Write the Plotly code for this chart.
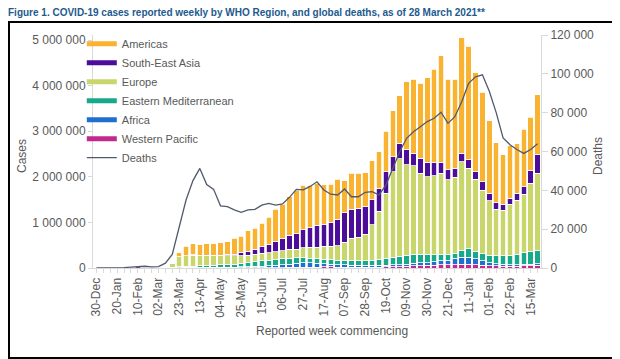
import numpy as np
import pandas as pd
import plotly.graph_objects as go

# ---- data -------------------------------------------------------------
weeks = pd.date_range("2019-12-30", periods=65, freq="7D")
week_labels = [d.strftime("%d-%b") for d in weeks]

# weekly cases by WHO region, thousands
western_pacific_k = [0, 0.03, 0.1, 1.8, 10, 20, 26, 13, 6, 10, 6,
                     6, 8, 10, 12, 12, 10, 8, 7, 6, 6, 5, 6, 6, 7, 8, 9, 10, 12, 15, 18,
                     20, 22, 24, 24, 22, 20, 20, 20, 20, 20, 22, 24, 26, 30, 35, 45,
                     50, 55, 60, 70, 70, 75, 80, 80, 70, 60, 50, 45, 40, 40, 40, 45, 50, 55]
africa_k = [0, 0, 0, 0, 0, 0, 0, 0, 0, 0.01, 0.1,
            1, 2, 3, 4, 5, 7, 8, 10, 13, 15, 18, 22, 28, 35, 42, 51, 60, 73, 85, 92,
            90, 78, 66, 56, 53, 50, 45, 40, 38, 38, 38, 40, 44, 46, 50, 55,
            60, 65, 75, 85, 105, 135, 160, 160, 130, 95, 70, 50, 40, 35, 35, 35, 35, 35]
eastern_med_k = [0, 0, 0, 0, 0, 0, 0, 0, 0.3, 3, 6,
                 9, 14, 22, 26, 30, 36, 42, 50, 58, 65, 77, 92, 106, 118, 125, 130, 130, 125, 120, 110,
                 105, 100, 100, 100, 95, 90, 90, 95, 102, 117, 130, 146, 160, 184, 200, 200,
                 190, 180, 155, 135, 125, 110, 150, 180, 170, 155, 165, 175, 190, 210, 225, 250, 275, 300]
europe_k = [0, 0, 0, 0, 0.01, 0.02, 0.01, 0.01, 0.6, 8, 30,
            84, 226, 235, 238, 223, 217, 212, 200, 190, 180, 170, 160, 160, 160, 160, 170, 180, 200, 190, 220,
            235, 260, 290, 300, 320, 400, 495, 515, 580, 775, 1050, 1430, 1880, 2140, 1975, 1940,
            1780, 1700, 1730, 1790, 1630, 1670, 1940, 1770, 1580, 1400, 1195, 1020, 1000, 1115, 1190, 1290, 1500, 1690]
south_east_asia_k = [0, 0, 0, 0, 0, 0, 0, 0, 0, 0.05, 0.1,
                     1, 1, 3, 6, 9, 12, 15, 18, 20, 40, 70, 90, 110, 150, 180, 220, 260, 310, 340, 400,
                     430, 480, 470, 510, 580, 650, 640, 640, 600, 550, 500, 470, 330, 340, 340, 280,
                     330, 320, 290, 230, 220, 200, 190, 180, 160, 180, 160, 140, 130, 130, 150, 160, 270, 400]
americas_k = [0, 0, 0, 0, 0.002, 0.003, 0.01, 0.01, 0.03, 0.2, 2,
              19, 89, 207, 244, 231, 248, 245, 265, 293, 344, 360, 450, 460, 510, 595, 710, 760, 840, 950, 970,
              930, 920, 880, 850, 880, 700, 790, 770, 750, 850, 810, 890, 1010, 1040, 1480, 1620,
              1640, 1850, 2050, 2340, 1990, 1950, 2530, 2490, 2170, 1960, 1590, 1320, 1080, 1150, 1090, 1260, 1180, 1320]

# weekly global deaths, thousands
deaths_k = [0, 0, 0.01, 0.05, 0.2, 0.5, 0.8, 0.9, 0.6, 0.7, 2.5,
            7, 21, 35, 45, 51.3, 43, 40.5, 32, 31.6, 29.9, 28.7, 29.9, 30.2, 32.4, 33.3, 32.4, 33, 36.4, 40.5, 40.2,
            42, 44.4, 40.2, 38, 37.6, 40.7, 36.7, 36.7, 39, 39.3, 37.6, 42.7, 51.3, 59.9, 66.8, 70.2,
            72.8, 75.4, 77.1, 80.2, 74.5, 77.9, 85.6, 95.1, 98.5, 99.5, 91, 80, 67, 63.5, 61, 59, 61, 64]

# stacking order bottom -> top, legend order top -> bottom
regions = [
    ("Western Pacific", western_pacific_k, "#C2298F"),
    ("Africa", africa_k, "#1E6FD0"),
    ("Eastern Mediterranean", eastern_med_k, "#17A98A"),
    ("Europe", europe_k, "#C8D66B"),
    ("South-East Asia", south_east_asia_k, "#4B0D9A"),
    ("Americas", americas_k, "#F9B331"),
]
deaths_color = "#4F5A6B"

# ---- figure -----------------------------------------------------------
fig = go.Figure()
for name, vals, col in regions:
    fig.add_trace(go.Bar(
        x=week_labels, y=np.array(vals) * 1000, name=name,
        marker=dict(color=col, line=dict(color="white", width=0.8)),
        showlegend=False, yaxis="y",
    ))
fig.add_trace(go.Scatter(
    x=week_labels, y=np.array(deaths_k) * 1000, name="Deaths", mode="lines",
    line=dict(color=deaths_color, width=1.3), yaxis="y2", showlegend=False,
))

# legend entries (thick line swatches like the original)
for name, vals, col in reversed(regions):
    fig.add_trace(go.Scatter(x=[None], y=[None], mode="lines", name=name,
                             line=dict(color=col, width=5), yaxis="y"))
fig.add_trace(go.Scatter(x=[None], y=[None], mode="lines", name="Deaths",
                         line=dict(color=deaths_color, width=1.3), yaxis="y2"))

tick_font = dict(family="Liberation Sans, Arial, sans-serif", size=12, color="#595959")
axis_grey = "#D9D9D9"

# the page body has an 8px margin, so the figure is drawn 8px smaller
OFF = 8
W, H = 620 - OFF, 359 - OFF
L, R, T, B = 93 - OFF, 79, 35 - OFF, 91
pw, ph = W - L - R, H - T - B

def px_to_paper(sx, sy):
    """screen pixel -> paper coordinate"""
    return (sx - OFF - L) / pw, (H - B - (sy - OFF)) / ph

fig.update_layout(
    width=W, height=H,
    margin=dict(l=L, r=R, t=T, b=B, pad=0),
    paper_bgcolor="white", plot_bgcolor="white",
    barmode="stack", bargap=0.2,
    separators=". ",
    font=tick_font,
    title=dict(
        text="<b>Figure 1. COVID-19 cases reported weekly by WHO Region, and global deaths, as of 28 March 2021**</b>",
        font=dict(family="Liberation Sans, Arial", size=10, color="#1D5A8E"),
        x=0, xanchor="left", xref="container",
        y=1 - 1 / H, yanchor="top", yref="container",
    ),
    xaxis=dict(
        type="category", categoryorder="array", categoryarray=week_labels,
        tickmode="array", tickvals=week_labels,
        ticktext=[lab if i % 3 == 0 else "" for i, lab in enumerate(week_labels)],
        tickangle=-90, tickfont=tick_font,
        showline=True, linecolor=axis_grey, linewidth=1,
        ticks="outside", ticklen=4, tickcolor=axis_grey,
        showgrid=False, range=[-0.5, 64.5],
    ),
    yaxis=dict(
        range=[0, 5e6 * ph / 228], tickmode="array",
        tickvals=[0, 1e6, 2e6, 3e6, 4e6, 5e6], tickformat=",d",
        showgrid=False, zeroline=False,
        showline=True, linecolor=axis_grey, linewidth=1,
        ticks="outside", ticklen=4, tickcolor=axis_grey,
        tickfont=tick_font,
    ),
    yaxis2=dict(
        overlaying="y", side="right", range=[0, 120000],
        tickvals=[0, 20000, 40000, 60000, 80000, 100000, 120000], tickformat=",d",
        showgrid=False, zeroline=False,
        showline=True, linecolor=axis_grey, linewidth=1,
        ticks="outside", ticklen=6, tickcolor=axis_grey,
        tickfont=tick_font,
    ),
    legend=dict(
        x=-0.025, y=1.025, xanchor="left", yanchor="top",
        bgcolor="rgba(0,0,0,0)", traceorder="normal",
        font=dict(family="Liberation Sans, Arial", size=11, color="#595959"),
        itemwidth=30, tracegroupgap=0,
    ),
)

ann_font = dict(family="Liberation Sans, Arial", size=12, color="#595959")
cx, cy = px_to_paper(22, 156)
dx, dy = px_to_paper(598, 156)
rx, ry = px_to_paper(332, 331)
for txt, ax, ay, ang in [("Cases", cx, cy, -90), ("Deaths", dx, dy, -90),
                         ("Reported week commencing", rx, ry, 0)]:
    fig.add_annotation(text=txt, x=ax, y=ay, xref="paper", yref="paper",
                       xanchor="center", yanchor="middle",
                       textangle=ang, showarrow=False, font=ann_font)

# frame of the original picture
x0, y0 = px_to_paper(9, 358)
x1, y1 = px_to_paper(618, 22)
fig.add_shape(type="rect", xref="paper", yref="paper", x0=x0, y0=y0, x1=x1, y1=y1,
              line=dict(color="black", width=2), fillcolor="rgba(0,0,0,0)", layer="below")

fig.write_html("out.html")
